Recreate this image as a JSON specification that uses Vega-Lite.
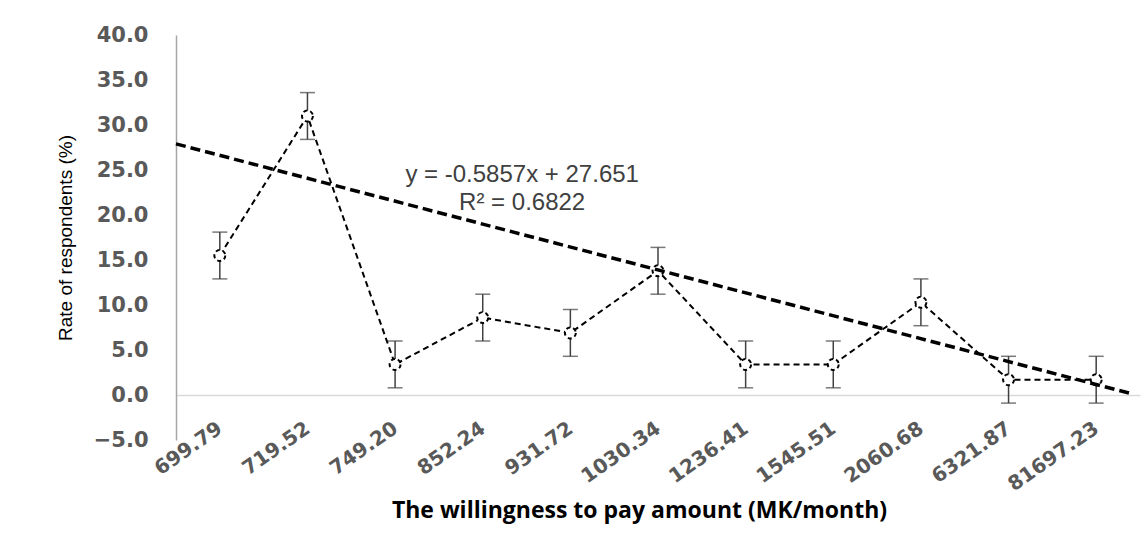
{
  "$schema": "https://vega.github.io/schema/vega-lite/v6.json",
  "width": 964,
  "height": 405,
  "autosize": {"type": "none"},
  "padding": {"left": 176, "top": 35, "right": 8, "bottom": 103},
  "background": "white",
  "config": {"view": {"stroke": null}},
  "datasets": {
    "wtp": [
      {"amount": "699.79", "rate": 15.5, "err": 2.6},
      {"amount": "719.52", "rate": 31.0, "err": 2.6},
      {"amount": "749.20", "rate": 3.4, "err": 2.6},
      {"amount": "852.24", "rate": 8.6, "err": 2.6},
      {"amount": "931.72", "rate": 6.9, "err": 2.6},
      {"amount": "1030.34", "rate": 13.8, "err": 2.6},
      {"amount": "1236.41", "rate": 3.4, "err": 2.6},
      {"amount": "1545.51", "rate": 3.4, "err": 2.6},
      {"amount": "2060.68", "rate": 10.3, "err": 2.6},
      {"amount": "6321.87", "rate": 1.7, "err": 2.6},
      {"amount": "81697.23", "rate": 1.7, "err": 2.6}
    ],
    "trend": [
      {"tx": 0.5, "ty": 27.9},
      {"tx": 11.38, "ty": 0.2}
    ],
    "eq": [
      {"tx": 4.45, "ty": 24.4, "label": "y = -0.5857x + 27.651"},
      {"tx": 4.45, "ty": 21.3, "label": "R² = 0.6822"}
    ]
  },
  "resolve": {"scale": {"x": "independent"}},
  "layer": [
    {
      "data": {"name": "wtp"},
      "layer": [
        {
          "mark": {"type": "errorbar", "ticks": {"size": 15, "thickness": 1.5, "color": "#404040"}, "rule": {"strokeWidth": 1.5, "color": "#404040"}},
          "encoding": {
            "x": {"field": "amount", "type": "ordinal", "sort": null, "title": "The willingness to pay amount (MK/month)"},
            "y": {"field": "rate", "type": "quantitative", "title": "Rate of respondents (%)"},
            "yError": {"field": "err"}
          }
        },
        {
          "mark": {"type": "line", "color": "black", "strokeWidth": 2, "strokeDash": [6, 4]},
          "encoding": {
            "x": {"field": "amount", "type": "ordinal", "sort": null, "title": "The willingness to pay amount (MK/month)"},
            "y": {"field": "rate", "type": "quantitative", "title": "Rate of respondents (%)"}
          }
        },
        {
          "mark": {"type": "point", "shape": "circle", "filled": false, "fill": "white", "fillOpacity": 1, "stroke": "black", "strokeWidth": 2, "strokeDash": [4, 3], "size": 120, "opacity": 1},
          "encoding": {
            "x": {
              "field": "amount", "type": "ordinal", "sort": null,
              "scale": {"type": "point", "padding": 0.5},
              "title": "The willingness to pay amount (MK/month)",
              "axis": {
                "offset": -45,
                "domainColor": "#d9d9d9",
                "domainWidth": 1.5,
                "ticks": false,
                "grid": false,
                "labelAngle": -35,
                "labelAlign": "right",
                "labelBaseline": "middle",
                "labelPadding": 31,
                "labelFont": "DejaVu Sans",
                "labelFontWeight": "bold",
                "labelFontSize": 20,
                "labelColor": "#595959",
                "titleFont": "Open Sans",
                "titleFontWeight": "bold",
                "titleFontSize": 23,
                "titleColor": "#000000",
                "titlePadding": 5,
                "titleX": 463,
                "titleAnchor": "start",
                "titleAlign": "center"
              }
            },
            "y": {
              "field": "rate", "type": "quantitative",
              "scale": {"domain": [-5, 40], "nice": false, "zero": false},
              "title": "Rate of respondents (%)",
              "axis": {
                "values": [-5, 0, 5, 10, 15, 20, 25, 30, 35, 40],
                "format": ".1f",
                "grid": false,
                "ticks": false,
                "domainColor": "#a6a6a6",
                "domainWidth": 1.5,
                "labelPadding": 28,
                "labelFont": "DejaVu Sans",
                "labelFontWeight": "bold",
                "labelFontSize": 21,
                "labelColor": "#595959",
                "titleFont": "Liberation Sans",
                "titleFontWeight": "normal",
                "titleFontSize": 19,
                "titleColor": "#000000",
                "titlePadding": 18
              }
            }
          }
        }
      ]
    },
    {
      "data": {"name": "trend"},
      "mark": {"type": "line", "color": "black", "strokeWidth": 3.5, "strokeDash": [10, 5]},
      "encoding": {
        "x": {"field": "tx", "type": "quantitative", "scale": {"domain": [0.5, 11.5], "nice": false, "zero": false}, "axis": null},
        "y": {"field": "ty", "type": "quantitative", "title": "Rate of respondents (%)"}
      }
    },
    {
      "data": {"name": "eq"},
      "mark": {"type": "text", "font": "Liberation Sans", "fontSize": 24, "color": "#404040", "align": "center", "baseline": "middle"},
      "encoding": {
        "x": {"field": "tx", "type": "quantitative", "scale": {"domain": [0.5, 11.5], "nice": false, "zero": false}, "axis": null},
        "y": {"field": "ty", "type": "quantitative", "title": "Rate of respondents (%)"},
        "text": {"field": "label"}
      }
    }
  ]
}
